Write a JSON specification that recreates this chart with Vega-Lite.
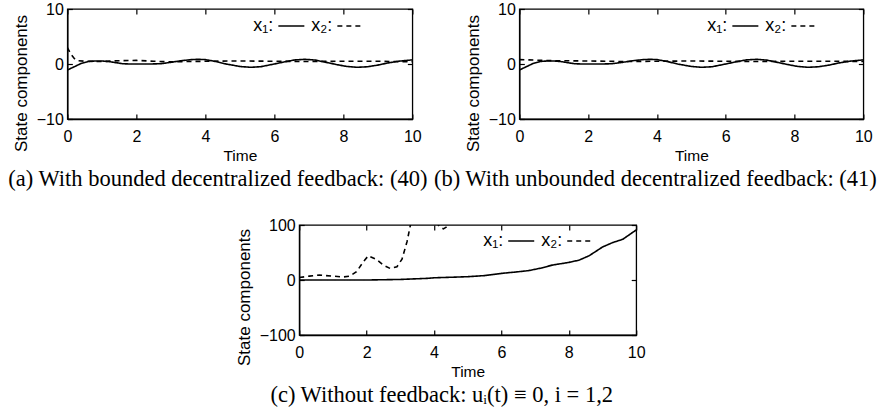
{
  "$schema": "https://vega.github.io/schema/vega-lite/v6.json",
  "background": "white",
  "padding": {"left": 7, "top": 0, "right": 0, "bottom": 0},
  "config": {
    "view": {"stroke": "black", "strokeWidth": 1.3},
    "axis": {
      "labelFont": "Liberation Sans", "titleFont": "Liberation Sans",
      "labelFontSize": 16, "titleFontWeight": "normal",
      "labelColor": "black", "titleColor": "black",
      "domainColor": "black", "domainWidth": 1.3,
      "tickColor": "black", "tickWidth": 1.2, "tickSize": -5,
      "grid": false, "labelFlush": false
    },
    "axisX": {"labelPadding": 14, "titlePadding": 4, "titleFontSize": 15.5},
    "axisY": {"labelPadding": 9, "titlePadding": 6, "titleFontSize": 17},
    "legend": {"labelFont": "Liberation Sans", "labelFontSize": 18, "labelColor": "black"},
    "title": {"font": "Liberation Serif", "fontSize": 22.5, "fontWeight": "normal", "color": "black"}
  },
  "datasets": {
    "a": [
      {"t": 0, "v": -1.1, "s": "x₁:"}, {"t": 0.2, "v": -0.5, "s": "x₁:"}, {"t": 0.4, "v": 0.1, "s": "x₁:"},
      {"t": 0.6, "v": 0.45, "s": "x₁:"}, {"t": 0.8, "v": 0.55, "s": "x₁:"}, {"t": 1.0, "v": 0.55, "s": "x₁:"},
      {"t": 1.2, "v": 0.45, "s": "x₁:"}, {"t": 1.4, "v": 0.25, "s": "x₁:"}, {"t": 1.6, "v": 0.05, "s": "x₁:"},
      {"t": 1.8, "v": 0.0, "s": "x₁:"}, {"t": 2.0, "v": 0.0, "s": "x₁:"}, {"t": 2.4, "v": 0.0, "s": "x₁:"},
      {"t": 2.7, "v": 0.05, "s": "x₁:"}, {"t": 3.0, "v": 0.3, "s": "x₁:"}, {"t": 3.3, "v": 0.6, "s": "x₁:"},
      {"t": 3.6, "v": 0.8, "s": "x₁:"}, {"t": 3.8, "v": 0.85, "s": "x₁:"}, {"t": 4.0, "v": 0.8, "s": "x₁:"},
      {"t": 4.3, "v": 0.45, "s": "x₁:"}, {"t": 4.6, "v": 0.0, "s": "x₁:"}, {"t": 5.0, "v": -0.45, "s": "x₁:"},
      {"t": 5.3, "v": -0.6, "s": "x₁:"}, {"t": 5.6, "v": -0.5, "s": "x₁:"}, {"t": 6.0, "v": 0.0, "s": "x₁:"},
      {"t": 6.3, "v": 0.4, "s": "x₁:"}, {"t": 6.6, "v": 0.75, "s": "x₁:"}, {"t": 6.9, "v": 0.85, "s": "x₁:"},
      {"t": 7.2, "v": 0.7, "s": "x₁:"}, {"t": 7.5, "v": 0.3, "s": "x₁:"}, {"t": 7.8, "v": -0.1, "s": "x₁:"},
      {"t": 8.1, "v": -0.45, "s": "x₁:"}, {"t": 8.4, "v": -0.6, "s": "x₁:"}, {"t": 8.7, "v": -0.5, "s": "x₁:"},
      {"t": 9.0, "v": -0.2, "s": "x₁:"}, {"t": 9.3, "v": 0.2, "s": "x₁:"}, {"t": 9.6, "v": 0.5, "s": "x₁:"},
      {"t": 10, "v": 0.75, "s": "x₁:"},
      {"t": 0, "v": 3.0, "s": "x₂:"}, {"t": 0.1, "v": 1.8, "s": "x₂:"}, {"t": 0.2, "v": 1.0, "s": "x₂:"},
      {"t": 0.3, "v": 0.6, "s": "x₂:"}, {"t": 0.5, "v": 0.5, "s": "x₂:"}, {"t": 1.0, "v": 0.45, "s": "x₂:"},
      {"t": 1.5, "v": 0.6, "s": "x₂:"}, {"t": 2.0, "v": 0.65, "s": "x₂:"}, {"t": 2.5, "v": 0.5, "s": "x₂:"},
      {"t": 3.0, "v": 0.4, "s": "x₂:"}, {"t": 3.5, "v": 0.45, "s": "x₂:"}, {"t": 4.0, "v": 0.5, "s": "x₂:"},
      {"t": 5.0, "v": 0.55, "s": "x₂:"}, {"t": 6.0, "v": 0.5, "s": "x₂:"}, {"t": 7.0, "v": 0.45, "s": "x₂:"},
      {"t": 8.0, "v": 0.5, "s": "x₂:"}, {"t": 9.0, "v": 0.5, "s": "x₂:"}, {"t": 10, "v": 0.4, "s": "x₂:"}
    ],
    "b": [
      {"t": 0, "v": -1.1, "s": "x₁:"}, {"t": 0.2, "v": -0.5, "s": "x₁:"}, {"t": 0.4, "v": 0.1, "s": "x₁:"},
      {"t": 0.6, "v": 0.45, "s": "x₁:"}, {"t": 0.8, "v": 0.55, "s": "x₁:"}, {"t": 1.0, "v": 0.55, "s": "x₁:"},
      {"t": 1.2, "v": 0.45, "s": "x₁:"}, {"t": 1.4, "v": 0.25, "s": "x₁:"}, {"t": 1.6, "v": 0.05, "s": "x₁:"},
      {"t": 1.8, "v": 0.0, "s": "x₁:"}, {"t": 2.0, "v": 0.0, "s": "x₁:"}, {"t": 2.4, "v": 0.0, "s": "x₁:"},
      {"t": 2.7, "v": 0.05, "s": "x₁:"}, {"t": 3.0, "v": 0.3, "s": "x₁:"}, {"t": 3.3, "v": 0.6, "s": "x₁:"},
      {"t": 3.6, "v": 0.8, "s": "x₁:"}, {"t": 3.8, "v": 0.85, "s": "x₁:"}, {"t": 4.0, "v": 0.8, "s": "x₁:"},
      {"t": 4.3, "v": 0.45, "s": "x₁:"}, {"t": 4.6, "v": 0.0, "s": "x₁:"}, {"t": 5.0, "v": -0.45, "s": "x₁:"},
      {"t": 5.3, "v": -0.6, "s": "x₁:"}, {"t": 5.6, "v": -0.5, "s": "x₁:"}, {"t": 6.0, "v": 0.0, "s": "x₁:"},
      {"t": 6.3, "v": 0.4, "s": "x₁:"}, {"t": 6.6, "v": 0.75, "s": "x₁:"}, {"t": 6.9, "v": 0.85, "s": "x₁:"},
      {"t": 7.2, "v": 0.7, "s": "x₁:"}, {"t": 7.5, "v": 0.3, "s": "x₁:"}, {"t": 7.8, "v": -0.1, "s": "x₁:"},
      {"t": 8.1, "v": -0.45, "s": "x₁:"}, {"t": 8.4, "v": -0.6, "s": "x₁:"}, {"t": 8.7, "v": -0.5, "s": "x₁:"},
      {"t": 9.0, "v": -0.2, "s": "x₁:"}, {"t": 9.3, "v": 0.2, "s": "x₁:"}, {"t": 9.6, "v": 0.5, "s": "x₁:"},
      {"t": 10, "v": 0.75, "s": "x₁:"},
      {"t": 0, "v": 0.8, "s": "x₂:"}, {"t": 1.0, "v": 0.6, "s": "x₂:"}, {"t": 2.0, "v": 0.55, "s": "x₂:"},
      {"t": 3.0, "v": 0.45, "s": "x₂:"}, {"t": 4.0, "v": 0.5, "s": "x₂:"}, {"t": 5.0, "v": 0.55, "s": "x₂:"},
      {"t": 6.0, "v": 0.5, "s": "x₂:"}, {"t": 7.0, "v": 0.45, "s": "x₂:"}, {"t": 8.0, "v": 0.5, "s": "x₂:"},
      {"t": 9.0, "v": 0.5, "s": "x₂:"}, {"t": 10, "v": 0.45, "s": "x₂:"}
    ],
    "c": [
      {"t": 0, "v": 0, "s": "x₁:"}, {"t": 1, "v": 0, "s": "x₁:"}, {"t": 2, "v": 0, "s": "x₁:"},
      {"t": 3, "v": 1, "s": "x₁:"}, {"t": 3.8, "v": 3, "s": "x₁:"}, {"t": 4, "v": 4, "s": "x₁:"},
      {"t": 4.5, "v": 5, "s": "x₁:"}, {"t": 5, "v": 6, "s": "x₁:"}, {"t": 5.5, "v": 8, "s": "x₁:"},
      {"t": 6, "v": 12, "s": "x₁:"}, {"t": 6.5, "v": 15, "s": "x₁:"}, {"t": 6.8, "v": 17, "s": "x₁:"},
      {"t": 7.2, "v": 22, "s": "x₁:"}, {"t": 7.5, "v": 27, "s": "x₁:"}, {"t": 8, "v": 32, "s": "x₁:"},
      {"t": 8.3, "v": 36, "s": "x₁:"}, {"t": 8.6, "v": 44, "s": "x₁:"}, {"t": 9, "v": 60, "s": "x₁:"},
      {"t": 9.3, "v": 68, "s": "x₁:"}, {"t": 9.6, "v": 74, "s": "x₁:"}, {"t": 10, "v": 91, "s": "x₁:"},
      {"t": 0, "v": 4.5, "s": "x₂:"}, {"t": 0.3, "v": 7, "s": "x₂:"}, {"t": 0.6, "v": 9, "s": "x₂:"},
      {"t": 1.0, "v": 7, "s": "x₂:"}, {"t": 1.3, "v": 5.5, "s": "x₂:"}, {"t": 1.5, "v": 7, "s": "x₂:"},
      {"t": 1.7, "v": 15, "s": "x₂:"}, {"t": 1.9, "v": 33, "s": "x₂:"}, {"t": 2.05, "v": 44, "s": "x₂:"},
      {"t": 2.3, "v": 37, "s": "x₂:"}, {"t": 2.5, "v": 27, "s": "x₂:"}, {"t": 2.7, "v": 21, "s": "x₂:"},
      {"t": 2.9, "v": 24, "s": "x₂:"}, {"t": 3.05, "v": 38, "s": "x₂:"}, {"t": 3.2, "v": 70, "s": "x₂:"},
      {"t": 3.3, "v": 100, "s": "x₂:"}, {"t": 3.5, "v": 140, "s": "x₂:"}, {"t": 3.8, "v": 150, "s": "x₂:"},
      {"t": 4.0, "v": 125, "s": "x₂:"}, {"t": 4.12, "v": 100.5, "s": "x₂:"}, {"t": 4.2, "v": 96, "s": "x₂:"},
      {"t": 4.28, "v": 93, "s": "x₂:"}, {"t": 4.36, "v": 96, "s": "x₂:"}, {"t": 4.45, "v": 101, "s": "x₂:"},
      {"t": 4.7, "v": 140, "s": "x₂:"}, {"t": 5.0, "v": 200, "s": "x₂:"}
    ]
  },
  "vconcat": [
    {
      "hconcat": [
        {
          "width": 345, "height": 110,
          "data": {"name": "a"},
          "title": {"text": "(a) With bounded decentralized feedback: (40)", "orient": "bottom", "anchor": "middle", "dx": -22, "offset": 4},
          "layer": [
            {
              "mark": {"type": "line", "clip": true, "color": "black", "strokeWidth": 1.6},
              "encoding": {
                "x": {"field": "t", "type": "quantitative", "scale": {"domain": [0, 10], "nice": false}, "axis": {"title": "Time", "values": [0, 2, 4, 6, 8, 10]}},
                "y": {"field": "v", "type": "quantitative", "scale": {"domain": [-10, 10], "nice": false}, "axis": {"title": "State components", "values": [-10, 0, 10], "titleY": 74}},
                "strokeDash": {"field": "s", "type": "nominal", "scale": {"domain": ["x₁:", "x₂:"], "range": [[1, 0], [5, 4]]},
                  "legend": {"title": null, "orient": "none", "legendX": 210, "legendY": 3, "direction": "horizontal", "symbolType": "stroke", "symbolSize": 676, "symbolStrokeWidth": 1.5, "symbolStrokeColor": "black", "labelAlign": "right", "labelOffset": -32, "columnPadding": 4, "padding": 0}}
              }
            },
            {
              "mark": {"type": "point", "opacity": 0, "clip": true},
              "encoding": {
                "x": {"field": "t", "type": "quantitative", "axis": {"orient": "top", "labels": false, "title": null, "domain": false, "values": [0, 2, 4, 6, 8, 10]}},
                "y": {"field": "v", "type": "quantitative", "axis": {"orient": "right", "labels": false, "title": null, "domain": false, "values": [-10, 0, 10]}}
              }
            }
          ],
          "resolve": {"axis": {"x": "independent", "y": "independent"}}
        },
        {
          "width": 344, "height": 110,
          "data": {"name": "b"},
          "title": {"text": "(b) With unbounded decentralized feedback: (41)", "orient": "bottom", "anchor": "middle", "dx": -36, "offset": 4},
          "layer": [
            {
              "mark": {"type": "line", "clip": true, "color": "black", "strokeWidth": 1.6},
              "encoding": {
                "x": {"field": "t", "type": "quantitative", "scale": {"domain": [0, 10], "nice": false}, "axis": {"title": "Time", "values": [0, 2, 4, 6, 8, 10]}},
                "y": {"field": "v", "type": "quantitative", "scale": {"domain": [-10, 10], "nice": false}, "axis": {"title": "State components", "values": [-10, 0, 10], "titleY": 74}},
                "strokeDash": {"field": "s", "type": "nominal", "scale": {"domain": ["x₁:", "x₂:"], "range": [[1, 0], [5, 4]]},
                  "legend": {"title": null, "orient": "none", "legendX": 212, "legendY": 3, "direction": "horizontal", "symbolType": "stroke", "symbolSize": 676, "symbolStrokeWidth": 1.5, "symbolStrokeColor": "black", "labelAlign": "right", "labelOffset": -32, "columnPadding": 4, "padding": 0}}
              }
            },
            {
              "mark": {"type": "point", "opacity": 0, "clip": true},
              "encoding": {
                "x": {"field": "t", "type": "quantitative", "axis": {"orient": "top", "labels": false, "title": null, "domain": false, "values": [0, 2, 4, 6, 8, 10]}},
                "y": {"field": "v", "type": "quantitative", "axis": {"orient": "right", "labels": false, "title": null, "domain": false, "values": [-10, 0, 10]}}
              }
            }
          ],
          "resolve": {"axis": {"x": "independent", "y": "independent"}}
        }
      ],
      "spacing": 107,
      "bounds": "flush",
      "resolve": {"scale": {"strokeDash": "independent"}, "legend": {"strokeDash": "independent"}}
    },
    {
      "width": 337, "height": 110,
      "data": {"name": "c"},
      "title": {"text": "(c) Without feedback: uᵢ(t) ≡ 0, i = 1,2", "orient": "bottom", "anchor": "middle", "dx": -26, "offset": 4},
      "layer": [
        {
          "mark": {"type": "line", "clip": true, "color": "black", "strokeWidth": 1.6},
          "encoding": {
            "x": {"field": "t", "type": "quantitative", "scale": {"domain": [0, 10], "nice": false}, "axis": {"title": "Time", "values": [0, 2, 4, 6, 8, 10]}},
            "y": {"field": "v", "type": "quantitative", "scale": {"domain": [-100, 100], "nice": false}, "axis": {"title": "State components", "values": [-100, 0, 100], "titleY": 72}},
            "strokeDash": {"field": "s", "type": "nominal", "scale": {"domain": ["x₁:", "x₂:"], "range": [[1, 0], [5, 4]]},
              "legend": {"title": null, "orient": "none", "legendX": 208, "legendY": 2, "direction": "horizontal", "symbolType": "stroke", "symbolSize": 676, "symbolStrokeWidth": 1.5, "symbolStrokeColor": "black", "labelAlign": "right", "labelOffset": -32, "columnPadding": 4, "padding": 0}}
          }
        },
        {
          "mark": {"type": "point", "opacity": 0, "clip": true},
          "encoding": {
            "x": {"field": "t", "type": "quantitative", "axis": {"orient": "top", "labels": false, "title": null, "domain": false, "values": [0, 2, 4, 6, 8, 10]}},
            "y": {"field": "v", "type": "quantitative", "axis": {"orient": "right", "labels": false, "title": null, "domain": false, "values": [-100, 0, 100]}}
          }
        }
      ],
      "resolve": {"axis": {"x": "independent", "y": "independent"}}
    }
  ],
  "spacing": 25,
  "bounds": "full",
  "center": true,
  "resolve": {"scale": {"strokeDash": "independent"}, "legend": {"strokeDash": "independent"}}
}
